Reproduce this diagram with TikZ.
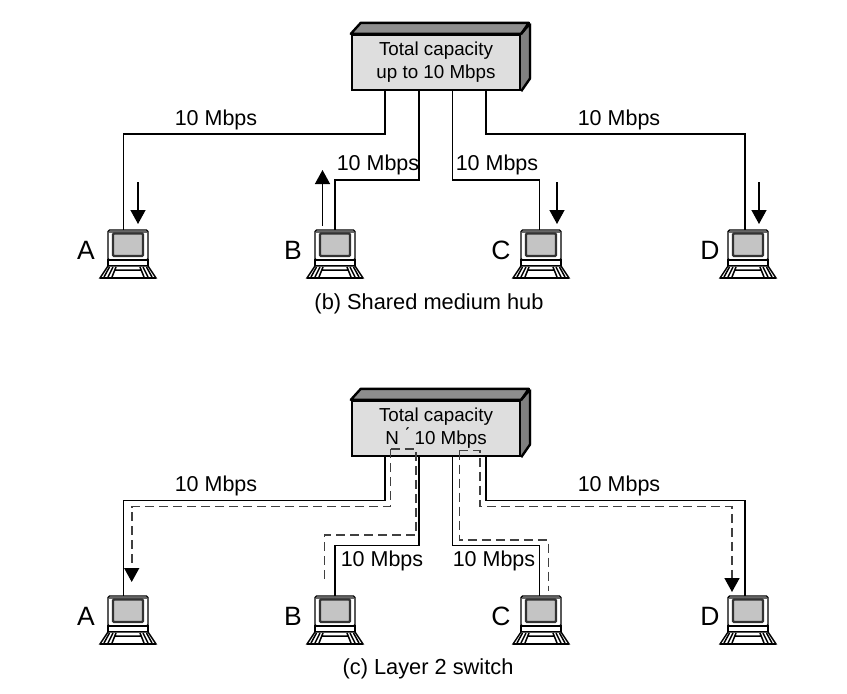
\documentclass[tikz,border=0pt]{standalone}
\usepackage{fontspec}
\setmainfont{Liberation Sans}
\usetikzlibrary{arrows.meta}
\definecolor{hubface}{HTML}{DEDEDE}
\definecolor{hubside}{HTML}{808080}
\definecolor{screenfill}{HTML}{C4C4C4}
\definecolor{dashgray}{HTML}{404040}
\tikzset{
  wire/.style={line width=1.2pt},
  datapath/.style={line width=1.6pt,dashgray,dash pattern=on 9pt off 5pt},
  flow/.style={line width=1.3pt,-{Triangle[width=15pt,length=14pt]}},
  dataend/.style={-{Triangle[width=15pt,length=14pt,black]}},
  hubbox/.style={draw,line width=2.4pt,fill=hubface,minimum width=168pt,minimum height=55pt,
    align=center,inner sep=0pt,font=\fontsize{18.8}{23}\selectfont},
  speed/.style={font=\fontsize{21.5}{24}\selectfont},
  station/.style={font=\fontsize{26.5}{28}\selectfont},
  caption/.style={font=\fontsize{21.8}{25}\selectfont},
  pics/computer/.style={code={
    \draw[line width=1.4pt,fill=white,rounded corners=1.5pt] (-20,0) rectangle (20,30);
    \fill[black!60] (-19,0.5) rectangle (19,3);
    \draw[line width=2.2pt,black!80,fill=screenfill,rounded corners=1pt] (-15,3.5) rectangle (15,26);
    \draw[line width=1.4pt,fill=white] (-20,30) rectangle (20,36);
    \draw[line width=1.4pt,fill=white] (-20,36) -- (20,36) -- (28,48) -- (-28,48) -- cycle;
    \draw[line width=1.5pt] (-15,37) -- (-20,47) (-18.5,37) -- (-24,47) (-12,37) -- (-16,47) (-13,40) -- (13,40)
      (15,37) -- (20,47) (18.5,37) -- (24,47) (12,37) -- (16,47);
    \draw[line width=2.4pt] (-28,48) -- (28,48);
  }}
}
\newcommand{\hubbody}[2]{%
  \fill[hubside] (#1.north east) -- ++(10,-11) -- ++(0,55) -- (#1.south east) -- cycle;
  \draw[line width=2.4pt,line join=round,fill=hubside!90] (#1.north west) -- ++(10,-11) -- ++(168,0) -- (#1.north east) -- cycle;
  \draw[line width=2.4pt,line join=round] (#2) -- ++(0,55) -- (#1.south east) (#1.north east) -- (#2);
}
\begin{document}
\begin{tikzpicture}[x=1pt,y=-1pt]
\useasboundingbox (0,0) rectangle (847,694);

% upper drawing
\node [hubbox,name=hubb] at (436,62.5){Total capacity\\up to 10 Mbps};
\coordinate (hubbcorner) at (530,23.5);
\hubbody{hubb}{hubbcorner}
\pic at (128,230) {computer};
\pic at (335,230) {computer};
\pic at (541,230) {computer};
\pic at (748,230) {computer};
\coordinate (porta) at (385,91);
\coordinate (portb) at (419,91);
\coordinate (portc) at (452.7,91);
\coordinate (portd) at (486,91);
\coordinate (pcba) at (123.5,230);
\coordinate (pcbb) at (335,230);
\coordinate (pcbc) at (539.3,230);
\coordinate (pcbd) at (745,230);
\draw[wire] (porta)--(385,134)-|(pcba);
\draw[wire] (portb)--(419,180)-|(pcbb);
\draw[wire] (portc)--(452.7,180)-|(pcbc);
\draw[wire] (portd)--(486,134)-|(pcbd);
\draw[flow] (138,182)--(138,224);
\draw[flow] (322.5,226)--(322.5,170);
\draw[flow] (557,182)--(557,224);
\draw[flow] (759,182)--(759,224);
\node [speed,name=sba] at (216,120){10 Mbps};
\node [speed,name=sbb] at (378,165){10 Mbps};
\node [speed,name=sbc] at (497,165){10 Mbps};
\node [speed,name=sbd] at (619,120){10 Mbps};
\node [station,name=lba] at (86,250){A};
\node [station,name=lbb] at (293,250){B};
\node [station,name=lbc] at (501,250){C};
\node [station,name=lbd] at (710,250){D};
\node [caption,name=capb] at (429,304){(b) Shared medium hub};

% lower drawing
\node [hubbox,name=hubc] at (436,428.5){Total capacity\\N \'{} 10 Mbps};
\coordinate (hubccorner) at (530,389.5);
\hubbody{hubc}{hubccorner}
\pic at (128,596) {computer};
\pic at (335,596) {computer};
\pic at (541,596) {computer};
\pic at (748,596) {computer};
\coordinate (qorta) at (385,457);
\coordinate (qortb) at (419,457);
\coordinate (qortc) at (452.7,457);
\coordinate (qortd) at (486,457);
\coordinate (pcca) at (123.5,596);
\coordinate (pccb) at (335,596);
\coordinate (pccc) at (539.3,596);
\coordinate (pccd) at (745,596);
\draw[wire] (qorta)--(385,500.5)-|(pcca);
\draw[wire] (qortb)--(419,545.5)-|(pccb);
\draw[wire] (qortc)--(452.7,545.5)-|(pccc);
\draw[wire] (qortd)--(486,500.5)-|(pccd);
\coordinate (enda) at (131.7,582);
\coordinate (endb) at (324.3,582);
\coordinate (endc) at (548.3,591);
\coordinate (endd) at (732,592);
\draw[datapath,dataend] (390.5,449)--(390.5,506.5)-|(enda);
\draw[datapath] (390.5,449)-|(415.7,535)-|(endb);
\draw[datapath] (459.3,450.5)--(459.3,540)-|(endc);
\draw[datapath,dataend] (459.3,450.5)-|(480,506.5)-|(endd);
\node [speed,name=sca] at (216,486){10 Mbps};
\node [speed,name=scb] at (382,561){10 Mbps};
\node [speed,name=scc] at (494,561){10 Mbps};
\node [speed,name=scd] at (619,486){10 Mbps};
\node [station,name=lca] at (86,616){A};
\node [station,name=lcb] at (293,616){B};
\node [station,name=lcc] at (501,616){C};
\node [station,name=lcd] at (710,616){D};
\node [caption,name=capc] at (428,669){(c) Layer 2 switch};
\end{tikzpicture}
\end{document}
